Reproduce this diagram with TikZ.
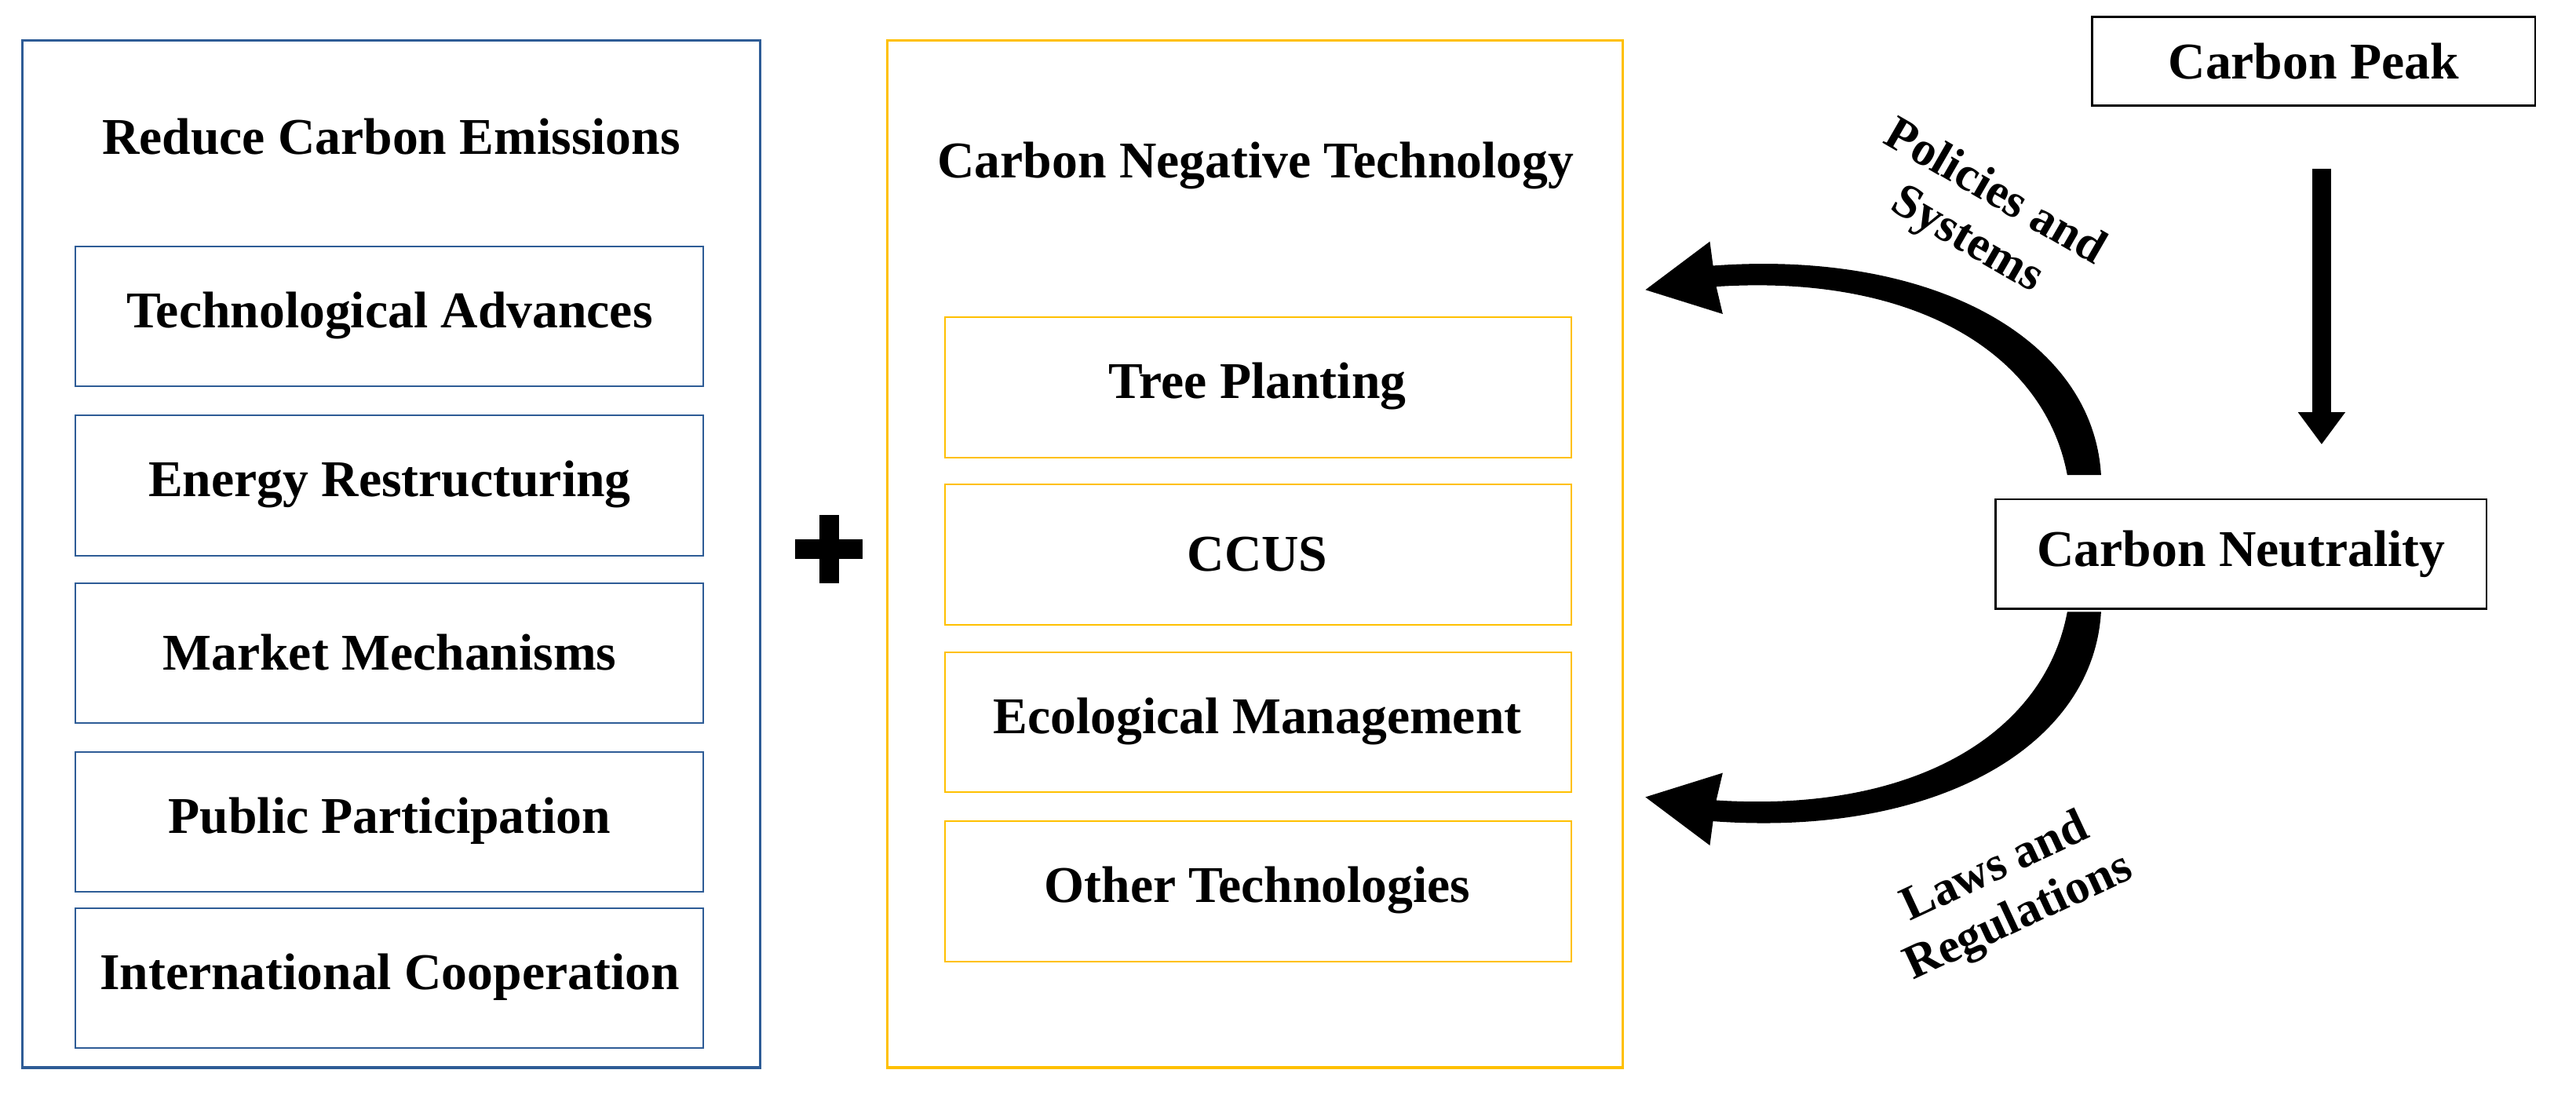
\documentclass[tikz,border=0pt]{standalone}
\usepackage{fontspec}
\setmainfont{Liberation Serif}
\usetikzlibrary{arrows.meta}
\begin{document}
\begin{tikzpicture}[x=1pt,y=-1pt,
 txt/.style={font=\fontsize{32}{38}\selectfont\bfseries},
 lab/.style={font=\fontsize{30}{34}\selectfont\bfseries,align=center},
 blue/.style={draw={rgb,255:red,46;green,92;blue,150},line width=1.6pt},
 yel/.style={draw={rgb,255:red,255;green,192;blue,0},line width=1.6pt},
 ib/.style={draw={rgb,255:red,46;green,92;blue,150},line width=1pt},
 iy/.style={draw={rgb,255:red,255;green,192;blue,0},line width=1pt},
 bk/.style={draw=black,line width=1.2pt}]
\useasboundingbox (0,0) rectangle (1600,689.3);
% left
\draw[blue] (14,25) rectangle (472,663);
\node[txt] (t1) at (243,85) {Reduce Carbon Emissions};
\foreach \y/\t [count=\i] in {153/Technological Advances,258/Energy Restructuring,362/Market Mechanisms,467/Public Participation,564/International Cooperation}{
 \draw[ib] (47,\y) rectangle (437,\y+87);
 \node[txt] (l\i) at (242,\y+43) {\t};}
% plus
\fill (509,320) rectangle (521,362);
\fill (494,335) rectangle (536,347);
% middle
\draw[yel] (551,25) rectangle (1008,663);
\node[txt] (t2) at (780,103) {Carbon Negative Technology};
\foreach \y/\t [count=\i] in {197/Tree Planting,301/CCUS,405/Ecological Management,510/Other Technologies}{
 \draw[iy] (587,\y) rectangle (976,\y+87);
 \node[txt] (m\i) at (781,\y+43) {\t};}
% right
\node[txt,bk,minimum width=275pt,minimum height=55pt] (peak) at (1437,38) {Carbon Peak};
\node[txt,bk,minimum width=305pt,minimum height=68pt] (neut) at (1392,344) {Carbon Neutrality};
\coordinate (a1) at (1442,105);
\coordinate (a2) at (1442,276);
\draw[line width=12pt,-{Triangle[length=20pt,width=28pt]}] (a1) -- (a2);
\fill (1305,295) .. controls (1300,210) and (1200,155) .. (1064,165) -- (1062,150) -- (1022,180) -- (1070,195) -- (1066,178) .. controls (1190,170) and (1270,220) .. (1284,295) -- cycle;
\fill (1305,380) .. controls (1300,465) and (1200,520) .. (1064,510) -- (1062,525) -- (1022,495) -- (1070,480) -- (1066,497) .. controls (1190,505) and (1270,455) .. (1284,380) -- cycle;
\node[lab,rotate=-30] (p) at (1230,135) {Policies and\\Systems};
\node[lab,rotate=25] (lr) at (1247,555) {Laws and\\Regulations};
\end{tikzpicture}
\end{document}
